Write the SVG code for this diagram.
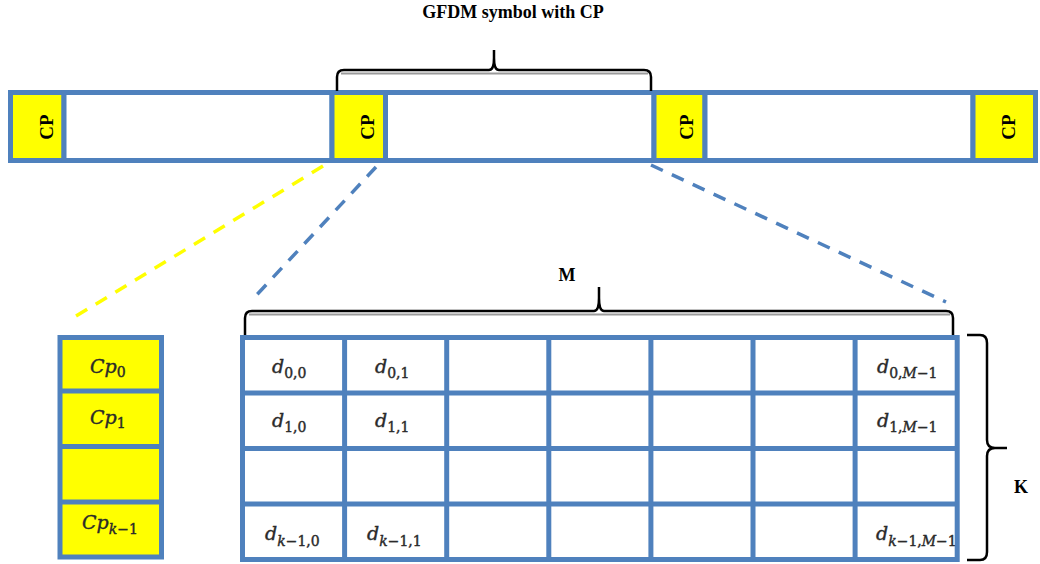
<svg xmlns="http://www.w3.org/2000/svg" width="1040" height="564" viewBox="0 0 1040 564">
<style>
.cell{fill:#ffffff;stroke:#4F81BD;stroke-width:5}
.cp{fill:#FFFF00;stroke:#4F81BD;stroke-width:5}
.ln{stroke:#4F81BD;stroke-width:5;fill:none}
.brace{fill:none;stroke:#000;stroke-width:2.5}
.shadow{fill:none;stroke:#9a9a9a;stroke-width:2}
.lbl{font-family:"Liberation Serif","Times New Roman",serif;font-weight:bold;fill:#000}
.m{font-family:"DejaVu Serif",serif;font-style:italic;font-size:19px;fill:#2a2a2a;stroke:#2a2a2a;stroke-width:0.4}
.s{font-size:14px;font-style:normal}
.i{font-style:italic}
.dash{fill:none;stroke-width:3.5;stroke-dasharray:13 10}
</style>
<rect width="1040" height="564" fill="#ffffff"/>
<text class="lbl" x="513" y="18" font-size="18" text-anchor="middle">GFDM symbol with CP</text>

<g id="frame-bar">
<rect class="cell" x="10.5" y="92.5" width="1025" height="68"/>
</g>
<g id="cp1"><rect class="cp" x="10.5" y="92.5" width="53.5" height="68"/><text class="lbl" font-size="19" text-anchor="middle" transform="translate(53,127) rotate(-90)">CP</text></g>
<g id="data1"><rect class="cell" x="64" y="92.5" width="268" height="68"/></g>
<g id="cp2"><rect class="cp" x="332" y="92.5" width="53.5" height="68"/><text class="lbl" font-size="19" text-anchor="middle" transform="translate(374,127) rotate(-90)">CP</text></g>
<g id="data2"><rect class="cell" x="385.5" y="92.5" width="268.5" height="68"/></g>
<g id="cp3"><rect class="cp" x="654" y="92.5" width="51" height="68"/><text class="lbl" font-size="19" text-anchor="middle" transform="translate(693,127) rotate(-90)">CP</text></g>
<g id="data3"><rect class="cell" x="705" y="92.5" width="268" height="68"/></g>
<g id="cp4"><rect class="cp" x="973" y="92.5" width="62.5" height="68"/><text class="lbl" font-size="19" text-anchor="middle" transform="translate(1015,127) rotate(-90)">CP</text></g>

<g id="brace-top">
<path class="shadow" d="M341,73.5 L648,73.5"/>
<path class="brace" d="M337,91 L337,77 Q337,70 344,70 L489,70 Q494,70 494,58 L494,50 M494,58 Q494,70 499,70 L644,70 Q651,70 651,77 L651,91"/>
</g>

<g id="connectors">
<line class="dash" x1="323" y1="166" x2="68" y2="321" stroke="#FFFF00"/>
<line class="dash" x1="376" y1="167" x2="251" y2="301" stroke="#4F81BD"/>
<line class="dash" x1="651" y1="165" x2="946" y2="302" stroke="#4F81BD"/>
</g>

<g id="cp-column">
<rect class="cp" x="60" y="337.5" width="101.5" height="219.5"/>
<line class="ln" x1="60" y1="391" x2="161.5" y2="391"/>
<line class="ln" x1="60" y1="446.5" x2="161.5" y2="446.5"/>
<line class="ln" x1="60" y1="502" x2="161.5" y2="502"/>
<text class="m" x="90" y="373">Cp<tspan class="s" dy="4">0</tspan></text>
<text class="m" x="90" y="424">Cp<tspan class="s" dy="4">1</tspan></text>
<text class="m" x="82" y="529">Cp<tspan class="s" dy="5"><tspan class="i">k</tspan>−1</tspan></text>
</g>

<g id="brace-m">
<text class="lbl" x="567" y="281" font-size="18" text-anchor="middle">M</text>
<path class="shadow" d="M249,314.5 L950,314.5"/>
<path class="brace" d="M245,336 L245,318 Q245,311 252,311 L594,311 Q599,311 599,298 L599,287 M599,298 Q599,311 604,311 L946,311 Q953,311 953,318 L953,336"/>
</g>

<g id="grid">
<rect class="cell" x="242.5" y="337.5" width="714.7" height="222"/>
<line class="ln" x1="344.6" y1="337.5" x2="344.6" y2="559.5"/>
<line class="ln" x1="446.7" y1="337.5" x2="446.7" y2="559.5"/>
<line class="ln" x1="548.8" y1="337.5" x2="548.8" y2="559.5"/>
<line class="ln" x1="650.9" y1="337.5" x2="650.9" y2="559.5"/>
<line class="ln" x1="753" y1="337.5" x2="753" y2="559.5"/>
<line class="ln" x1="855.1" y1="337.5" x2="855.1" y2="559.5"/>
<line class="ln" x1="242.5" y1="393" x2="957.2" y2="393"/>
<line class="ln" x1="242.5" y1="448.5" x2="957.2" y2="448.5"/>
<line class="ln" x1="242.5" y1="504" x2="957.2" y2="504"/>
<text class="m" x="272" y="373">d<tspan class="s" dy="5">0,0</tspan></text>
<text class="m" x="375" y="373">d<tspan class="s" dy="5">0,1</tspan></text>
<text class="m" x="877" y="373">d<tspan class="s" dy="5">0,<tspan class="i">M</tspan>−1</tspan></text>
<text class="m" x="272" y="427">d<tspan class="s" dy="5">1,0</tspan></text>
<text class="m" x="375" y="427">d<tspan class="s" dy="5">1,1</tspan></text>
<text class="m" x="877" y="427">d<tspan class="s" dy="5">1,<tspan class="i">M</tspan>−1</tspan></text>
<text class="m" x="265" y="540">d<tspan class="s" dy="6"><tspan class="i">k</tspan>−1,0</tspan></text>
<text class="m" x="367" y="540">d<tspan class="s" dy="6"><tspan class="i">k</tspan>−1,1</tspan></text>
<text class="m" x="876" y="540">d<tspan class="s" dy="6"><tspan class="i">k</tspan>−1,<tspan class="i">M</tspan>−1</tspan></text>
</g>

<g id="brace-k">
<path class="brace" d="M967,335 L980,335 Q987,335 987,343 L987,440 Q987,448 995,448 L1007,448 M995,448 Q987,448 987,456 L987,552 Q987,560 980,560 L967,560"/>
<text class="lbl" x="1021" y="493" font-size="18" text-anchor="middle">K</text>
</g>
</svg>
